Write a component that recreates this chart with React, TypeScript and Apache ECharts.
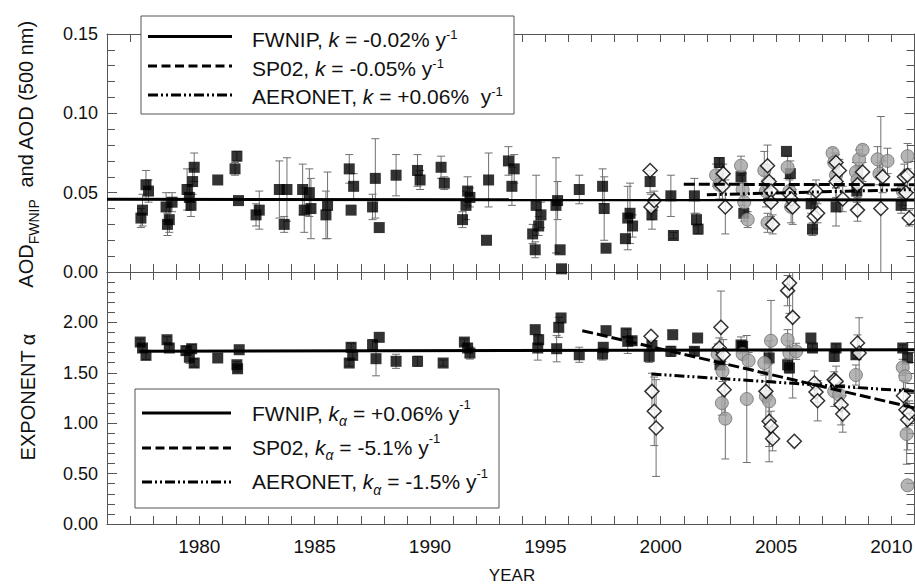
import React, { useEffect, useRef } from 'react';
import * as echarts from 'echarts';

const FONT = '"Liberation Sans", Arial, Helvetica, sans-serif';

// ---------- Top panel: AOD (500 nm) ----------
const fwnipAodYear = [1977.47,1977.54,1977.69,1977.80,1978.56,1978.62,1978.70,1978.82,1979.47,1979.57,1979.64,1979.71,1979.78,1980.80,1981.55,1981.63,1981.70,1982.46,1982.60,1983.47,1983.68,1983.80,1984.48,1984.55,1984.77,1984.84,1985.49,1985.56,1986.50,1986.58,1986.69,1987.51,1987.63,1987.80,1988.53,1989.46,1989.57,1990.48,1990.62,1991.41,1991.56,1991.63,1991.73,1992.45,1992.54,1993.40,1993.55,1993.65,1994.45,1994.56,1994.60,1994.71,1994.81,1995.46,1995.53,1995.64,1995.70,1996.47,1997.48,1997.55,1997.63,1998.47,1998.57,1998.67,1998.78,1999.54,1999.62,2000.44,2000.55,2001.46,2001.55,2001.62,2002.54,2003.48,2003.60,2005.45,2005.62,2006.52,2006.58,2007.60,2008.50,2010.42];
const fwnipAod = [0.034,0.039,0.055,0.051,0.041,0.030,0.033,0.044,0.052,0.047,0.042,0.057,0.066,0.058,0.065,0.073,0.045,0.036,0.039,0.052,0.030,0.052,0.052,0.039,0.050,0.040,0.036,0.042,0.065,0.039,0.054,0.041,0.059,0.028,0.061,0.064,0.058,0.066,0.056,0.033,0.042,0.051,0.047,0.020,0.058,0.070,0.054,0.065,0.024,0.014,0.042,0.029,0.036,0.042,0.045,0.014,0.002,0.052,0.054,0.040,0.015,0.021,0.034,0.037,0.029,0.057,0.036,0.048,0.023,0.048,0.033,0.027,0.069,0.060,0.037,0.076,0.062,0.043,0.027,0.041,0.051,0.042];
const fwnipAodErr = [0.006,0.010,0.009,0.007,0.009,0.007,0.008,0.006,0.013,0.008,0.007,0.008,0.009,0,0.004,0.003,0,0.007,0.012,0.018,0.005,0.020,0.016,0.014,0.015,0.019,0.015,0.021,0.009,0,0.008,0.008,0.025,0,0.013,0.010,0.006,0.007,0.004,0.005,0.009,0.009,0.006,0,0.017,0.009,0.012,0.009,0.006,0.005,0.019,0.006,0.008,0.030,0.012,0,0,0.009,0.011,0.020,0,0,0.020,0.019,0.007,0.007,0.009,0.013,0.002,0.011,0.004,0.003,0.003,0.004,0,0,0.008,0.006,0.004,0.012,0.007,0.005];

const sp02AodYear = [2002.40,2002.54,2003.48,2003.55,2003.62,2003.77,2004.49,2004.56,2004.63,2004.63,2005.50,2005.58,2005.65,2007.45,2007.52,2007.60,2008.46,2008.53,2008.60,2008.75,2009.40,2009.48,2009.83,2010.49,2010.70];
const sp02Aod = [0.061,0.055,0.067,0.052,0.044,0.033,0.064,0.051,0.056,0.031,0.066,0.051,0.041,0.075,0.069,0.061,0.063,0.058,0.071,0.077,0.071,0.062,0.070,0.051,0.073];
const sp02AodErr = [0.007,0.009,0.006,0.010,0.012,0.005,0.012,0.010,0.012,0.006,0.007,0.008,0.010,0.003,0.006,0.008,0.006,0.008,0.006,0.003,0.008,0.007,0.008,0.009,0.008];

const aeronetAodYear = [1999.54,1999.58,1999.72,2002.68,2002.71,2002.80,2004.63,2004.70,2004.78,2004.78,2004.85,2005.58,2005.66,2005.72,2006.66,2006.73,2006.80,2007.60,2007.60,2007.74,2007.89,2008.53,2008.53,2008.75,2009.54,2009.62,2010.56,2010.63,2010.70,2010.77];
const aeronetAod = [0.064,0.041,0.045,0.054,0.062,0.041,0.067,0.057,0.051,0.044,0.030,0.049,0.046,0.041,0.035,0.051,0.037,0.057,0.069,0.064,0.046,0.055,0.039,0.063,0.040,0.060,0.060,0.050,0.061,0.034];
const aeronetAodErr = [0,0.008,0.006,0.008,0.006,0.017,0.013,0.010,0.008,0.009,0.006,0.009,0.008,0.011,0.008,0.007,0.006,0.010,0.005,0.007,0.008,0.008,0.007,0.006,0.058,0.010,0.008,0.010,0.008,0.005];

// trend lines (top)
const fwnipAodTrendYear = [1976, 2011];
const fwnipAodTrend = [0.0458, 0.0454];
const sp02AodTrendYear = [2001.0, 2011];
const sp02AodTrend = [0.0553, 0.0550];
const aeronetAodTrendYear = [2002.0, 2011];
const aeronetAodTrend = [0.0487, 0.052];

// ---------- Bottom panel: Angstrom exponent alpha ----------
const fwnipAlphaYear = [1977.44,1977.54,1977.69,1978.60,1978.70,1979.42,1979.57,1979.67,1979.78,1980.80,1981.63,1981.66,1981.73,1986.50,1986.58,1986.65,1987.51,1987.66,1987.80,1988.53,1989.46,1990.57,1991.49,1991.63,1991.73,1994.56,1994.67,1994.71,1995.49,1995.58,1995.68,1996.47,1997.48,1997.51,1997.63,1998.50,1998.57,1998.76,1999.50,1999.62,2000.44,2000.52,2001.46,2001.60,2002.57,2003.48,2003.55,2004.70,2005.50,2005.58,2006.51,2006.58,2007.52,2007.60,2008.46,2010.49,2010.70];
const fwnipAlpha = [1.805,1.746,1.673,1.828,1.746,1.720,1.654,1.739,1.597,1.647,1.580,1.540,1.729,1.597,1.753,1.673,1.779,1.640,1.852,1.614,1.614,1.597,1.805,1.746,1.696,1.928,1.746,1.828,1.739,1.951,2.044,1.679,1.686,1.753,1.918,1.895,1.812,1.818,1.663,1.772,1.713,1.878,1.713,1.845,1.580,1.776,1.763,1.647,1.580,1.548,1.845,1.746,1.663,1.746,1.679,1.746,1.647];
const fwnipAlphaErr = [0.03,0.03,0.04,0.03,0.03,0.04,0.06,0.04,0.04,0,0.03,0.03,0,0.03,0.04,0.04,0.05,0.17,0,0.07,0.05,0.03,0.03,0.04,0.06,0,0.12,0.05,0.13,0.10,0,0.075,0.06,0,0,0,0.12,0.03,0.06,0.05,0.05,0,0.04,0,0.05,0.08,0.04,0.06,0.06,0.05,0,0.04,0.05,0.04,0.04,0.03,0.04];

const sp02AlphaYear = [2002.47,2002.65,2002.68,2002.80,2003.55,2003.73,2003.81,2004.49,2004.56,2004.70,2004.78,2005.50,2005.58,2005.87,2007.52,2007.74,2008.46,2010.49,2010.60,2010.66,2010.70];
const sp02Alpha = [1.686,1.200,1.514,1.045,1.686,1.240,1.620,1.597,1.267,1.217,1.818,1.828,1.696,1.713,1.316,1.283,1.478,1.554,1.465,0.893,0.384];
const sp02AlphaErr = [0.10,0.12,0.10,0.40,0.05,0.63,0.08,0.12,0.25,0.60,0.40,0.10,0.12,0.08,0.15,0.12,0.10,0.08,0.12,0.30,0];

const aeronetAlphaYear = [1999.58,1999.62,1999.72,1999.80,2002.54,2002.61,2002.71,2002.75,2004.56,2004.70,2004.78,2004.85,2005.50,2005.58,2005.72,2005.79,2006.66,2006.73,2006.80,2007.52,2007.60,2007.82,2007.89,2008.53,2008.60,2010.52,2010.63,2010.70,2010.77];
const aeronetAlpha = [1.862,1.316,1.118,0.952,1.746,1.951,1.679,1.332,1.316,1.019,0.969,0.846,2.315,2.390,2.050,0.820,1.399,1.309,1.223,1.430,1.416,1.183,1.091,1.796,1.696,1.273,1.134,1.035,1.101];
const aeronetAlphaErr = [0,0.18,0.34,0.48,0.10,0.36,0.15,0.25,0.10,0.25,0.15,0.12,0.15,0.30,0.80,0,0.12,0.10,0.20,0.08,0.15,0.20,0.18,0.08,0.35,0.15,0.20,0.30,0.12];

// trend lines (bottom)
const fwnipAlphaTrendYear = [1977.4, 2011];
const fwnipAlphaTrend = [1.713, 1.728];
const sp02AlphaTrendYear = [1996.6, 2011];
const sp02AlphaTrend = [1.918, 1.151];
const aeronetAlphaTrendYear = [1999.6, 2011];
const aeronetAlphaTrend = [1.488, 1.316];

// axes
const yearMin = 1976;
const yearMax = 2011;
const yearLabels = [1980, 1985, 1990, 1995, 2000, 2005, 2010];
const aodMax = 0.15;
const alphaMax = 2.5;

// legend texts
const topLegend = [
  '{t|FWNIP, }{i|k}{t| = -0.02% y}{sup|-1}',
  '{t|SP02, }{i|k}{t| = -0.05% y}{sup|-1}',
  '{t|AERONET, }{i|k}{t| = +0.06%  y}{sup|-1}',
];
const bottomLegend = [
  '{t|FWNIP, }{i|k}{sub|α}{t| = +0.06% y}{sup|-1}',
  '{t|SP02, }{i|k}{sub|α}{t| = -5.1% y}{sup|-1}',
  '{t|AERONET, }{i|k}{sub|α}{t| = -1.5% y}{sup|-1}',
];

const DASH = [11, 4];
const DASHDOT = [10, 3, 2, 3, 2, 3];

const zip2 = (xs: number[], ys: number[]) => xs.map((x, i) => [x, ys[i]]);
const zip3 = (xs: number[], ys: number[], es: number[]) => xs.map((x, i) => [x, ys[i], es[i]]);

const errRender = (ymin: number, ymax: number) => (params: any, api: any) => {
  const x = api.value(0);
  const y = api.value(1);
  const e = api.value(2);
  if (!e) return { type: 'group', children: [] };
  const hiV = y + e;
  const loV = y - e;
  const hi = api.coord([x, Math.min(hiV, ymax)]);
  const lo = api.coord([x, Math.max(loV, ymin)]);
  const st = { stroke: '#707070', lineWidth: 1 };
  const ch: any[] = [
    { type: 'line', shape: { x1: hi[0], y1: hi[1], x2: lo[0], y2: lo[1] }, style: st },
  ];
  if (hiV <= ymax) ch.push({ type: 'line', shape: { x1: hi[0] - 4, y1: hi[1], x2: hi[0] + 4, y2: hi[1] }, style: st });
  if (loV >= ymin) ch.push({ type: 'line', shape: { x1: lo[0] - 4, y1: lo[1], x2: lo[0] + 4, y2: lo[1] }, style: st });
  return { type: 'group', children: ch };
};

const errSeries = (data: number[][], xi: number, yi: number, ymax: number) => ({
  type: 'custom',
  xAxisIndex: xi,
  yAxisIndex: yi,
  data,
  encode: { x: 0, y: 1 },
  renderItem: errRender(0, ymax),
  silent: true,
  z: 1,
});

const squareStyle = { symbol: 'rect', symbolSize: 11, itemStyle: { color: '#000' }, z: 3 };
const circleStyle = { symbol: 'circle', symbolSize: 13, itemStyle: { color: '#a3a3a3', borderColor: '#6e6e6e', borderWidth: 1 }, z: 4 };
const diamondStyle = { symbol: 'diamond', symbolSize: 14, itemStyle: { color: '#fff', borderColor: '#000', borderWidth: 1.5 }, z: 5 };

const scatter = (data: number[][], xi: number, yi: number, style: any) => ({
  type: 'scatter', xAxisIndex: xi, yAxisIndex: yi, data, silent: true, ...style,
});

const trend = (data: number[][], xi: number, yi: number, type: any) => ({
  type: 'line', xAxisIndex: xi, yAxisIndex: yi, data, symbol: 'none', showSymbol: false, silent: true, z: 6,
  lineStyle: { color: '#000', width: 3, type },
});

const axisColor = '#555';

const xAxisBase = (gridIndex: number, position: string, labels: boolean) => ({
  type: 'value', gridIndex, position, min: yearMin, max: yearMax, interval: 1,
  axisLine: { show: true, onZero: false, lineStyle: { color: axisColor, width: 1 } },
  axisTick: { show: true, inside: true, length: 8, lineStyle: { color: axisColor } },
  splitLine: { show: false },
  axisLabel: labels
    ? {
        show: true, margin: 13, fontSize: 19, color: '#111', fontFamily: FONT,
        formatter: (v: number) => (yearLabels.includes(Math.round(v)) ? String(Math.round(v)) : ''),
      }
    : { show: false },
});

const yAxisBase = (gridIndex: number, position: string, max: number, interval: number, labels: boolean) => ({
  type: 'value', gridIndex, position, min: 0, max, interval,
  axisLine: { show: true, onZero: false, lineStyle: { color: axisColor, width: 1 } },
  axisTick: { show: true, inside: true, length: 10, lineStyle: { color: axisColor } },
  minorTick: { show: true, splitNumber: 5, length: 8, lineStyle: { color: axisColor } },
  splitLine: { show: false },
  minorSplitLine: { show: false },
  axisLabel: labels
    ? {
        show: true, margin: 9, fontSize: 18, color: '#111', fontFamily: FONT,
        formatter: (v: number) => (v > max - interval / 2 && max === alphaMax ? '' : v.toFixed(2)),
      }
    : { show: false },
});

const legendRich = (lh: number) => ({
  t: { fontSize: 21, fontFamily: FONT, fill: '#111', lineHeight: lh },
  i: { fontSize: 21, fontFamily: FONT, fill: '#111', fontStyle: 'italic', lineHeight: lh },
  sup: { fontSize: 13, fontFamily: FONT, fill: '#111', lineHeight: lh === 24 ? 16 : 22, verticalAlign: 'top' },
  sub: { fontSize: 14, fontFamily: FONT, fill: '#111', fontStyle: 'italic', lineHeight: 14, verticalAlign: 'bottom' },
});

function buildLegend(box: number[], rows: string[], lineYs: number[], textYs: number[], x1: number, x2: number, lh: number) {
  const els: any[] = [
    {
      type: 'rect', z: 100,
      shape: { x: box[0], y: box[1], width: box[2], height: box[3] },
      style: { fill: '#fff', stroke: '#555', lineWidth: 1 },
    },
  ];
  const dashes: any[] = [null, [9, 4.5], DASHDOT];
  rows.forEach((txt, i) => {
    els.push({
      type: 'line', z: 101,
      shape: { x1, y1: lineYs[i], x2, y2: lineYs[i] },
      style: { stroke: '#000', lineWidth: 3, lineDash: dashes[i] || undefined },
    });
    els.push({
      type: 'text', z: 101, x: 252, y: textYs[i],
      style: { text: txt, rich: legendRich(lh), align: 'left', verticalAlign: 'middle' },
    });
  });
  return els;
}

function buildOption() {
  return {
    animation: false,
    textStyle: { fontFamily: FONT },
    grid: [
      { left: 107, top: 34, width: 807.5, height: 238, containLabel: false, outerBoundsMode: 'none' },
      { left: 107, top: 272, width: 807.5, height: 252, containLabel: false, outerBoundsMode: 'none' },
    ],
    xAxis: [
      xAxisBase(0, 'bottom', false),
      xAxisBase(0, 'top', false),
      xAxisBase(1, 'top', false),
      xAxisBase(1, 'bottom', true),
    ],
    yAxis: [
      yAxisBase(0, 'left', aodMax, 0.05, true),
      yAxisBase(0, 'right', aodMax, 0.05, false),
      yAxisBase(1, 'left', alphaMax, 0.5, true),
      yAxisBase(1, 'right', alphaMax, 0.5, false),
    ],
    series: [
      errSeries(zip3(fwnipAodYear, fwnipAod, fwnipAodErr), 0, 0, aodMax),
      errSeries(zip3(sp02AodYear, sp02Aod, sp02AodErr), 0, 0, aodMax),
      errSeries(zip3(aeronetAodYear, aeronetAod, aeronetAodErr), 0, 0, aodMax),
      errSeries(zip3(fwnipAlphaYear, fwnipAlpha, fwnipAlphaErr), 3, 2, alphaMax),
      errSeries(zip3(sp02AlphaYear, sp02Alpha, sp02AlphaErr), 3, 2, alphaMax),
      errSeries(zip3(aeronetAlphaYear, aeronetAlpha, aeronetAlphaErr), 3, 2, alphaMax),

      scatter(zip2(fwnipAodYear, fwnipAod), 0, 0, squareStyle),
      scatter(zip2(sp02AodYear, sp02Aod), 0, 0, circleStyle),
      scatter(zip2(aeronetAodYear, aeronetAod), 0, 0, diamondStyle),
      scatter(zip2(fwnipAlphaYear, fwnipAlpha), 3, 2, squareStyle),
      scatter(zip2(sp02AlphaYear, sp02Alpha), 3, 2, circleStyle),
      scatter(zip2(aeronetAlphaYear, aeronetAlpha), 3, 2, diamondStyle),

      trend(zip2(fwnipAodTrendYear, fwnipAodTrend), 0, 0, 'solid'),
      trend(zip2(sp02AodTrendYear, sp02AodTrend), 0, 0, DASH),
      trend(zip2(aeronetAodTrendYear, aeronetAodTrend), 0, 0, DASHDOT),
      trend(zip2(fwnipAlphaTrendYear, fwnipAlphaTrend), 3, 2, 'solid'),
      trend(zip2(sp02AlphaTrendYear, sp02AlphaTrend), 3, 2, DASH),
      trend(zip2(aeronetAlphaTrendYear, aeronetAlphaTrend), 3, 2, DASHDOT),
    ],
    graphic: [
      ...buildLegend([141, 16, 373, 98], topLegend, [36.5, 66, 95], [39.5, 68.5, 96.5], 148, 232, 24),
      ...buildLegend([135, 389, 364, 119], bottomLegend, [413, 448, 482], [413, 447, 481.5], 142, 231, 30),
      {
        type: 'text', x: 26, y: 154, rotation: Math.PI / 2, z: 50,
        style: {
          text: '{t|AOD}{sub|FWNIP}{t|  and AOD (500 nm)}',
          align: 'center', verticalAlign: 'middle',
          rich: {
            t: { fontSize: 20, fontFamily: FONT, fill: '#111', lineHeight: 30 },
            sub: { fontSize: 14, fontFamily: FONT, fill: '#111', lineHeight: 14, verticalAlign: 'bottom' },
          },
        },
      },
      {
        type: 'text', x: 28, y: 397, rotation: Math.PI / 2, z: 50,
        style: { text: 'EXPONENT α', fontSize: 20, fontFamily: FONT, fill: '#111', align: 'center', verticalAlign: 'middle' },
      },
      {
        type: 'text', x: 512, y: 575, z: 50,
        style: { text: 'YEAR', fontSize: 17, fontFamily: FONT, fill: '#111', align: 'center', verticalAlign: 'middle' },
      },
    ],
  };
}

export default function App() {
  const ref = useRef<HTMLDivElement>(null);
  useEffect(() => {
    document.body.style.margin = '0';
    const chart = echarts.init(ref.current as HTMLDivElement, null, { renderer: 'svg' });
    chart.setOption(buildOption() as any);
    return () => chart.dispose();
  }, []);
  return <div ref={ref} style={{ width: 915, height: 586 }} />;
}
